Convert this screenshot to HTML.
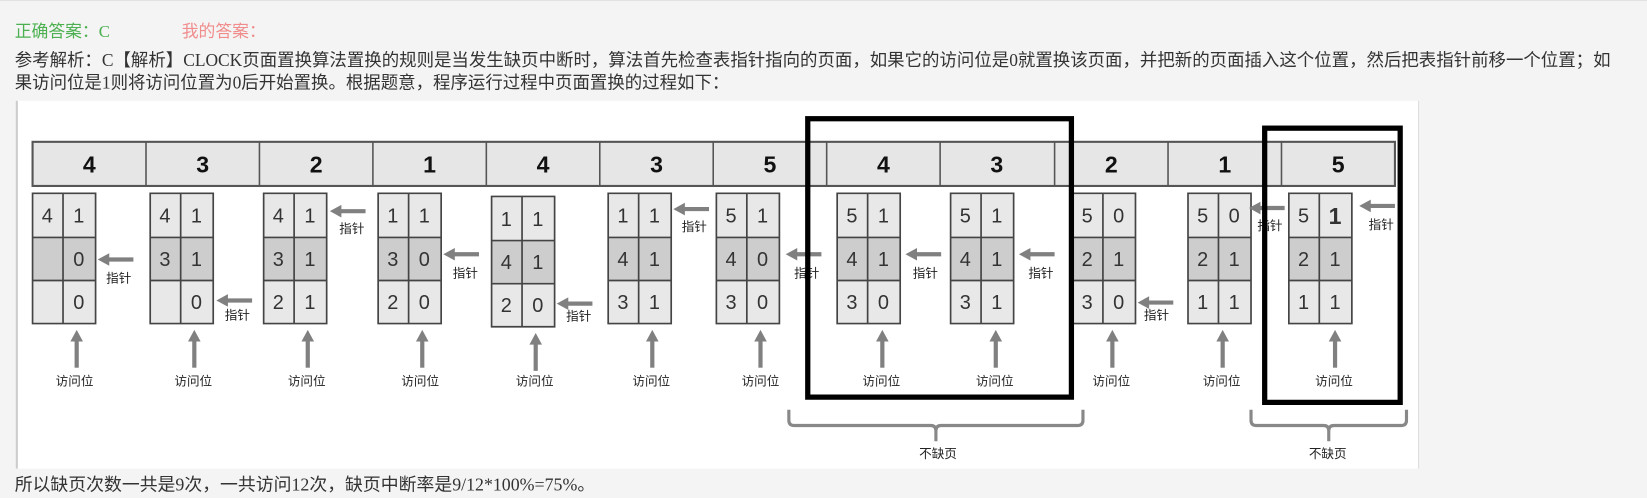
<!DOCTYPE html>
<html><head><meta charset="utf-8">
<style>
html,body{margin:0;padding:0;background:#f4f4f4;width:1647px;height:498px;overflow:hidden}
#w{position:absolute;left:0;top:0;width:1568px;height:474px;transform:scale(1.0504,1.0506);transform-origin:0 0;font-family:"Liberation Serif","Noto Sans CJK SC",sans-serif}
.t{position:absolute;white-space:nowrap;color:#333}
svg{position:absolute;left:0;top:0}
</style></head><body><div id="w">
<div style="position:absolute;left:0;top:0;width:1568px;height:1px;background:#e2e2e2"></div>
<div class="t" style="left:14px;top:16px;font-size:16px;color:#4cb050">正确答案：C</div>
<div class="t" style="left:173px;top:16px;font-size:16px;color:#f08c8c">我的答案：</div>
<div class="t" style="left:14px;top:47px;font-size:16.6px;line-height:21px">参考解析：C【解析】CLOCK页面置换算法置换的规则是当发生缺页中断时，算法首先检查表指针指向的页面，如果它的访问位是0就置换该页面，并把新的页面插入这个位置，然后把表指针前移一个位置；如<br>果访问位是1则将访问位置为0后开始置换。根据题意，程序运行过程中页面置换的过程如下：</div>
<div style="position:absolute;left:15px;top:96px;width:1333px;height:350px;background:#fff;border-left:2px solid #ccc;border-right:1px solid #ddd"></div>
<div class="t" style="left:14px;top:447px;font-size:17px">所以缺页次数一共是9次，一共访问12次，缺页中断率是9/12*100%=75%。</div>
<svg width="1568" height="474" viewBox="0 0 1568 474" font-family="Liberation Sans, Noto Sans CJK SC, sans-serif">
<defs>
<g id="fr"><rect x="0" y="0" width="60" height="42" fill="#e8e8e8"/><rect x="0" y="42" width="60" height="41" fill="#cdcdcd"/><rect x="0" y="83" width="60" height="41" fill="#e8e8e8"/><path d="M0,0H60V124H0Z M29,0V124 M0,42H60 M0,83H60" fill="none" stroke="#444" stroke-width="1.6"/></g>
<g id="la"><line x1="8" y1="0" x2="34" y2="0" stroke="#808080" stroke-width="4"/><polygon points="0,0 11,-6 11,6" fill="#808080"/></g>
<g id="ua"><line x1="0" y1="8" x2="0" y2="36" stroke="#808080" stroke-width="4"/><polygon points="0,0 -6,11 6,11" fill="#808080"/></g>
</defs>
<rect x="31" y="135" width="1297" height="42" fill="#e6e6e6" stroke="#555" stroke-width="2"/>
<g stroke="#555" stroke-width="1.5">
<line x1="139" y1="135" x2="139" y2="177"/><line x1="247" y1="135" x2="247" y2="177"/><line x1="355" y1="135" x2="355" y2="177"/><line x1="463" y1="135" x2="463" y2="177"/><line x1="571" y1="135" x2="571" y2="177"/><line x1="679" y1="135" x2="679" y2="177"/><line x1="787" y1="135" x2="787" y2="177"/><line x1="895" y1="135" x2="895" y2="177"/><line x1="1004" y1="135" x2="1004" y2="177"/><line x1="1112" y1="135" x2="1112" y2="177"/><line x1="1220" y1="135" x2="1220" y2="177"/>
</g>
<g font-size="22" font-weight="bold" text-anchor="middle" fill="#111">
<text x="85" y="164">4</text><text x="193" y="164">3</text><text x="301" y="164">2</text><text x="409" y="164">1</text><text x="517" y="164">4</text><text x="625" y="164">3</text><text x="733" y="164">5</text><text x="841" y="164">4</text><text x="949" y="164">3</text><text x="1058" y="164">2</text><text x="1166" y="164">1</text><text x="1274" y="164">5</text>
</g>
<g font-size="19" text-anchor="middle" fill="#333">
<g transform="translate(31,184)"><use href="#fr"/><text x="14" y="28">4</text><text x="44" y="28">1</text><text x="44" y="69">0</text><text x="44" y="110">0</text></g>
<g transform="translate(143,184)"><use href="#fr"/><text x="14" y="28">4</text><text x="44" y="28">1</text><text x="14" y="69">3</text><text x="44" y="69">1</text><text x="44" y="110">0</text></g>
<g transform="translate(251,184)"><use href="#fr"/><text x="14" y="28">4</text><text x="44" y="28">1</text><text x="14" y="69">3</text><text x="44" y="69">1</text><text x="14" y="110">2</text><text x="44" y="110">1</text></g>
<g transform="translate(360,184)"><use href="#fr"/><text x="14" y="28">1</text><text x="44" y="28">1</text><text x="14" y="69">3</text><text x="44" y="69">0</text><text x="14" y="110">2</text><text x="44" y="110">0</text></g>
<g transform="translate(468,187)"><use href="#fr"/><text x="14" y="28">1</text><text x="44" y="28">1</text><text x="14" y="69">4</text><text x="44" y="69">1</text><text x="14" y="110">2</text><text x="44" y="110">0</text></g>
<g transform="translate(579,184)"><use href="#fr"/><text x="14" y="28">1</text><text x="44" y="28">1</text><text x="14" y="69">4</text><text x="44" y="69">1</text><text x="14" y="110">3</text><text x="44" y="110">1</text></g>
<g transform="translate(682,184)"><use href="#fr"/><text x="14" y="28">5</text><text x="44" y="28">1</text><text x="14" y="69">4</text><text x="44" y="69">0</text><text x="14" y="110">3</text><text x="44" y="110">0</text></g>
<g transform="translate(797,184)"><use href="#fr"/><text x="14" y="28">5</text><text x="44" y="28">1</text><text x="14" y="69">4</text><text x="44" y="69">1</text><text x="14" y="110">3</text><text x="44" y="110">0</text></g>
<g transform="translate(905,184)"><use href="#fr"/><text x="14" y="28">5</text><text x="44" y="28">1</text><text x="14" y="69">4</text><text x="44" y="69">1</text><text x="14" y="110">3</text><text x="44" y="110">1</text></g>
<g transform="translate(1021,184)"><use href="#fr"/><text x="14" y="28">5</text><text x="44" y="28">0</text><text x="14" y="69">2</text><text x="44" y="69">1</text><text x="14" y="110">3</text><text x="44" y="110">0</text></g>
<g transform="translate(1131,184)"><use href="#fr"/><text x="14" y="28">5</text><text x="44" y="28">0</text><text x="14" y="69">2</text><text x="44" y="69">1</text><text x="14" y="110">1</text><text x="44" y="110">1</text></g>
<g transform="translate(1227,184)"><use href="#fr"/><text x="14" y="28">5</text><text x="44" y="29" font-weight="bold" font-size="22">1</text><text x="14" y="69">2</text><text x="44" y="69">1</text><text x="14" y="110">1</text><text x="44" y="110">1</text></g>
</g>
<use href="#la" x="93" y="247"/>
<use href="#la" x="206" y="286"/>
<use href="#la" x="314" y="201"/>
<use href="#la" x="422" y="242"/>
<use href="#la" x="530" y="289"/>
<use href="#la" x="641" y="199"/>
<use href="#la" x="748" y="242"/>
<use href="#la" x="862" y="242"/>
<use href="#la" x="970" y="242"/>
<use href="#la" x="1083" y="288"/>
<use href="#la" x="1189" y="198"/>
<use href="#la" x="1294" y="196"/>
<use href="#ua" x="73" y="314"/><use href="#ua" x="185" y="314"/><use href="#ua" x="293" y="314"/><use href="#ua" x="402" y="314"/><use href="#ua" x="510" y="317"/><use href="#ua" x="621" y="314"/><use href="#ua" x="724" y="314"/><use href="#ua" x="840" y="314"/><use href="#ua" x="948" y="314"/><use href="#ua" x="1059" y="314"/><use href="#ua" x="1164" y="314"/><use href="#ua" x="1271" y="314"/>
<g font-size="12" text-anchor="middle" fill="#222">
<text x="113" y="269">指针</text><text x="226" y="304">指针</text><text x="335" y="222">指针</text><text x="443" y="264">指针</text><text x="551" y="305">指针</text><text x="661" y="220">指针</text><text x="768" y="264">指针</text><text x="881" y="264">指针</text><text x="991" y="264">指针</text><text x="1101" y="304">指针</text><text x="1209" y="219">指针</text><text x="1315" y="218">指针</text>
<text x="71" y="367">访问位</text><text x="184" y="367">访问位</text><text x="292" y="367">访问位</text><text x="400" y="367">访问位</text><text x="509" y="367">访问位</text><text x="620" y="367">访问位</text><text x="724" y="367">访问位</text><text x="839" y="367">访问位</text><text x="947" y="367">访问位</text><text x="1058" y="367">访问位</text><text x="1163" y="367">访问位</text><text x="1270" y="367">访问位</text>
<text x="893" y="436">不缺页</text><text x="1264" y="436">不缺页</text>
</g>
<rect x="769" y="113" width="251" height="265" fill="none" stroke="#000" stroke-width="5"/>
<rect x="1204" y="122" width="129" height="261" fill="none" stroke="#000" stroke-width="5"/>
<g fill="none" stroke="#888" stroke-width="3">
<path d="M751,390 V400 Q751,405 756,405 H886 Q891,405 891,410 V420 M891,410 Q891,405 896,405 H1026 Q1031,405 1031,400 V390"/>
<path d="M1191,390 V400 Q1191,405 1196,405 H1260 Q1265,405 1265,410 V420 M1265,410 Q1265,405 1270,405 H1334 Q1339,405 1339,400 V390"/>
</g>
</svg>
</div></body></html>
